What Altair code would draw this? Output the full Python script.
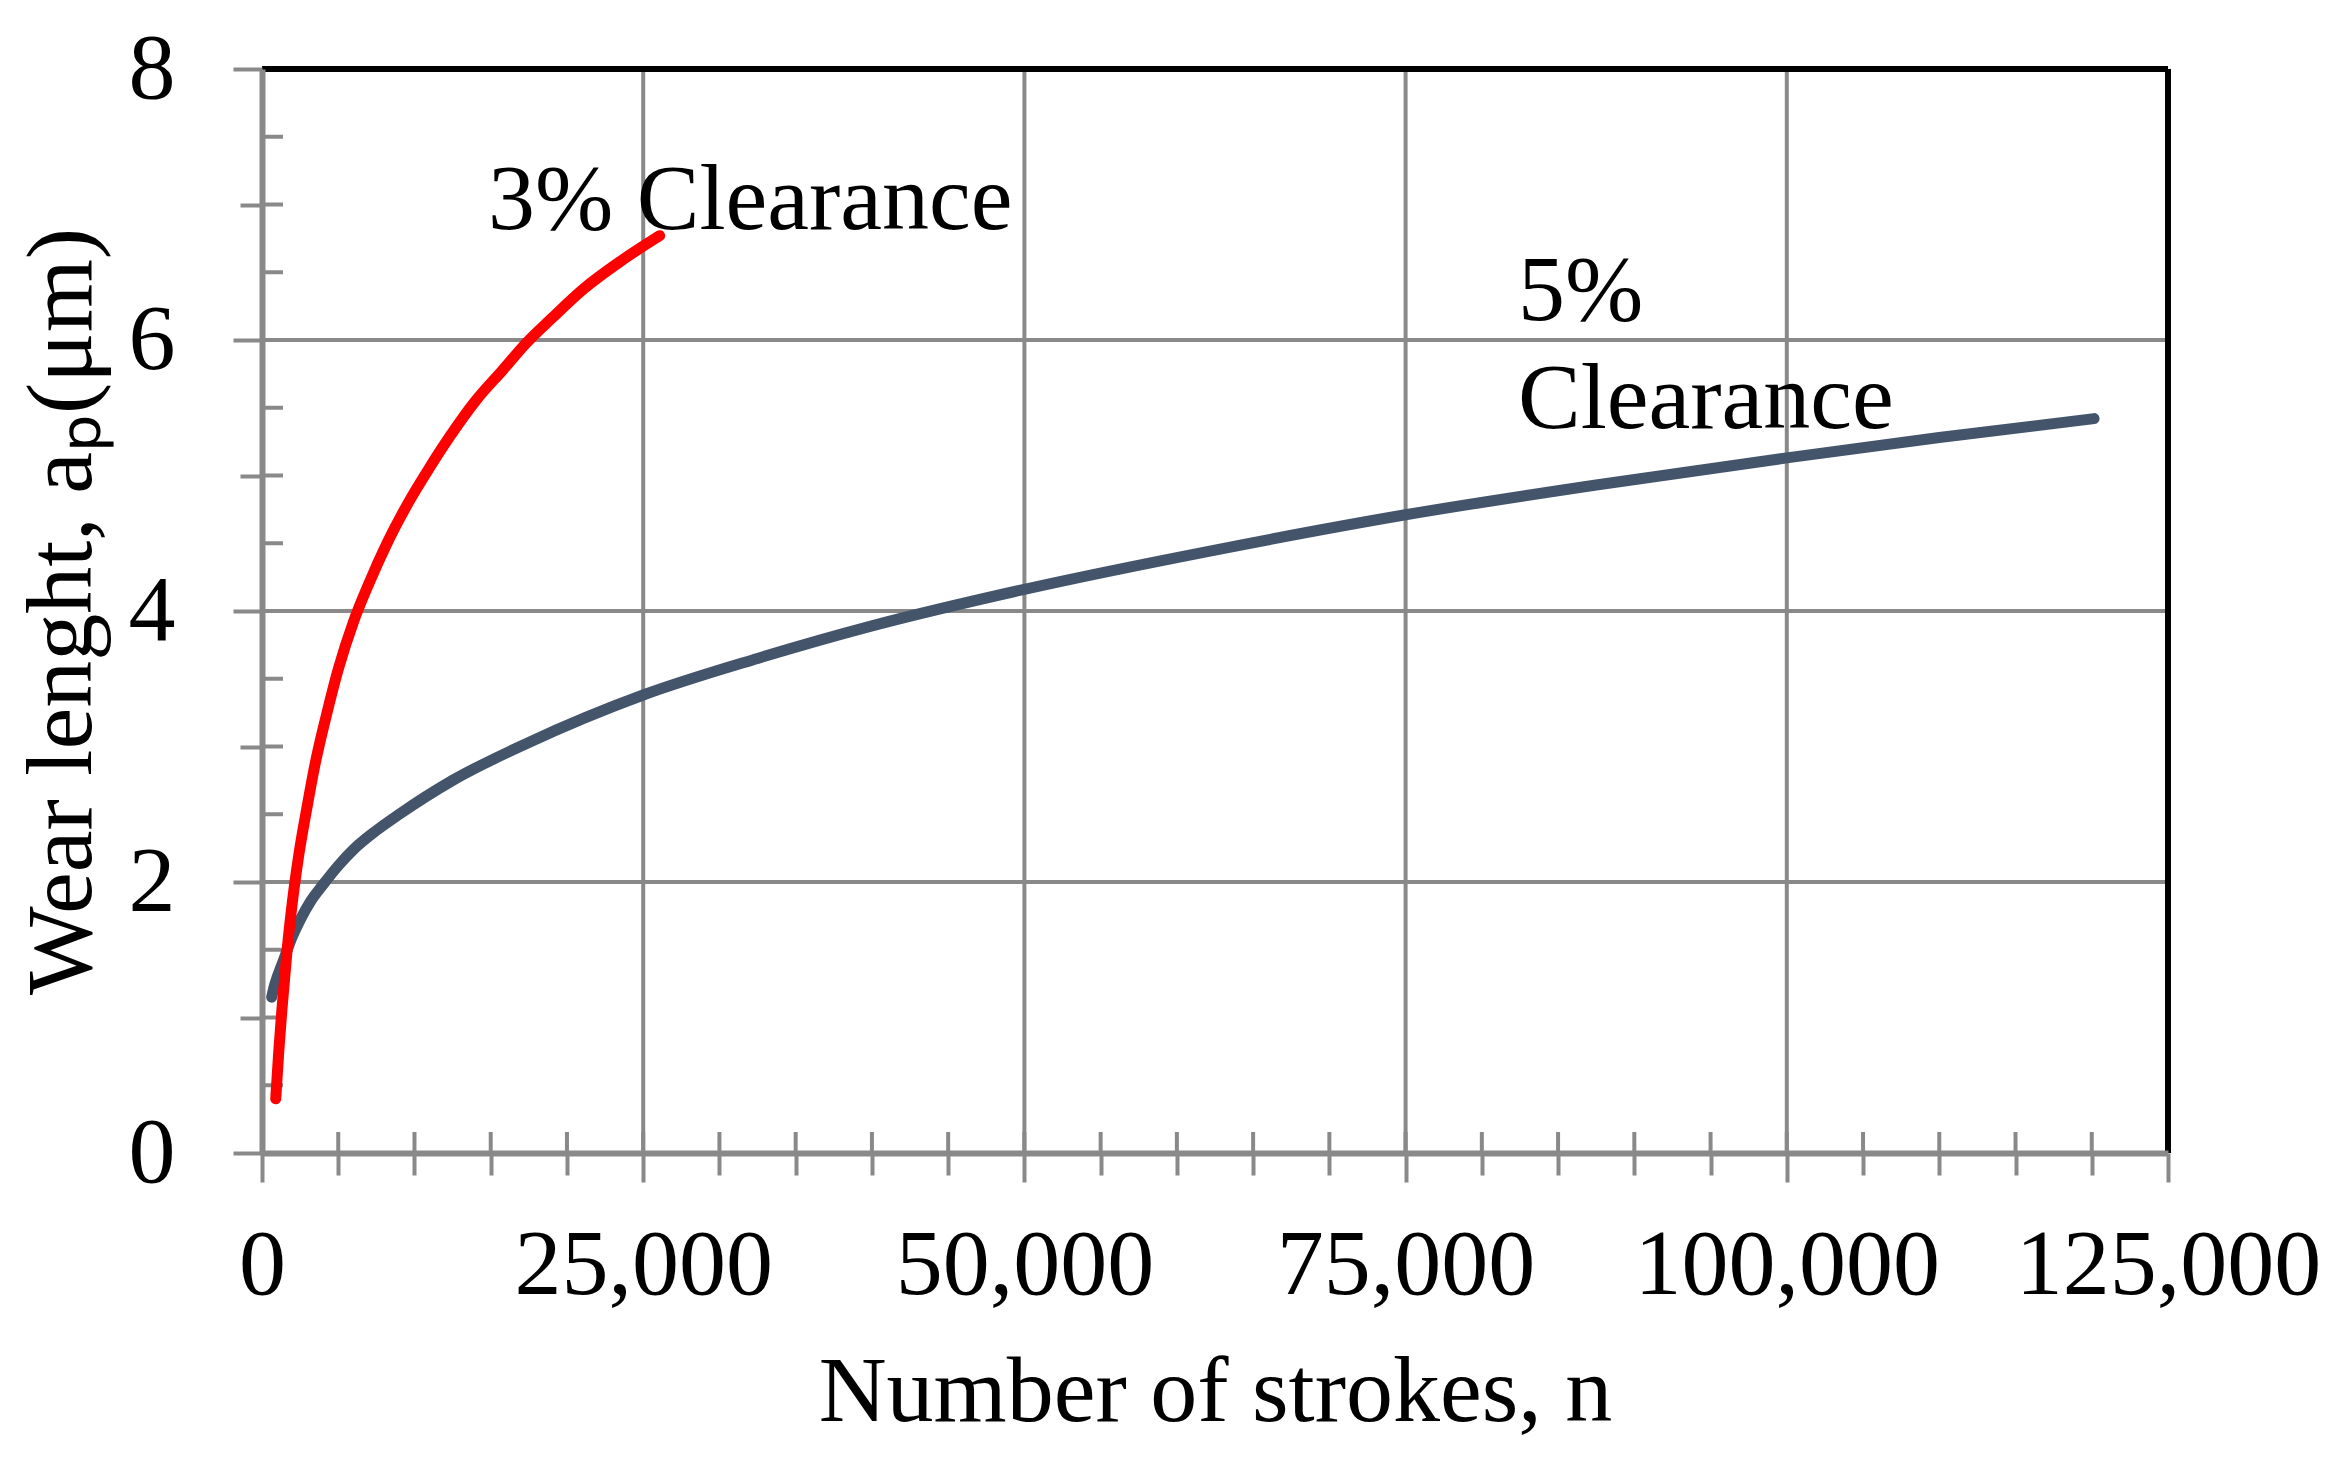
import altair as alt
import pandas as pd

# ---- data ----
red_n = [900, 1100, 1300, 1640, 2000, 2400, 2950, 3500, 4200, 5000, 6000, 7000, 8200,
         9500, 11000, 12330, 14000, 15800, 17350, 19000, 21120, 23500, 26080]
red_y = [0.40, 0.75, 1.05, 1.49, 1.86, 2.19, 2.55, 2.88, 3.22, 3.57, 3.92, 4.20, 4.50,
         4.78, 5.06, 5.29, 5.55, 5.78, 5.98, 6.16, 6.38, 6.58, 6.77]

gray_n = [636, 800, 1000, 1400, 2000, 2500, 3200, 4000, 5000, 6000, 7500, 9000, 12500,
          17500, 25000, 32500, 40000, 50000, 62500, 75000, 87500, 100000, 110000, 120150]
gray_y = [1.15, 1.23, 1.30, 1.42, 1.60, 1.72, 1.86, 1.98, 2.12, 2.24, 2.38, 2.50, 2.75,
          3.03, 3.38, 3.65, 3.89, 4.16, 4.45, 4.71, 4.93, 5.13, 5.28, 5.42]

label_text = ["3% Clearance", "5%", "Clearance"]
label_n = [14820, 82370, 82370]
label_y = [6.82, 6.15, 5.35]

x_tick_values = [0, 5000, 10000, 15000, 20000, 25000, 30000, 35000, 40000, 45000, 50000,
                 55000, 60000, 65000, 70000, 75000, 80000, 85000, 90000, 95000, 100000,
                 105000, 110000, 115000, 120000, 125000]
y_tick_values = [0, 0.5, 1, 1.5, 2, 2.5, 3, 3.5, 4, 4.5, 5, 5.5, 6, 6.5, 7, 7.5, 8]
x_grid_values = [25000, 50000, 75000, 100000]
y_grid_values = [2, 4, 6]
x_max = [125000]
y_max = [8]

W, H = 1906, 1084
FONT = "Liberation Serif"
GRAY = "#898989"

xaxis = alt.Axis(
    values=x_tick_values, format=",d",
    labelExpr="datum.value % 25000 === 0 ? datum.label : ''",
    labelOverlap=False, labelFlush=False, labelLimit=0,
    grid=False,
    domainColor=GRAY, domainWidth=6,
    tickColor=GRAY, tickWidth=4,
    tickSize={"condition": {"test": "datum.value % 25000 === 0", "value": 29}, "value": 22},
    labelFont=FONT, labelFontSize=94, labelColor="black", labelPadding=37,
    title="Number of strokes, n", titleFont=FONT, titleFontSize=94,
    titleFontWeight="normal", titleColor="black", titleBaseline="alphabetic",
    titleY=267, zindex=1,
)
yaxis = alt.Axis(
    values=y_tick_values, format="d",
    labelExpr="datum.value % 2 === 0 ? datum.label : ''",
    labelOverlap=False, labelFlush=False, labelLimit=0,
    grid=False,
    domainColor=GRAY, domainWidth=6,
    tickColor=GRAY, tickWidth=4,
    tickSize={"condition": {"test": "datum.value % 2 === 0", "value": 29}, "value": 22},
    labelFont=FONT, labelFontSize=94, labelColor="black", labelPadding=58,
    title="Wear lenght, a\u209a(\u03bcm)", titleFont=FONT, titleFontSize=94,
    titleFontWeight="normal", titleColor="black", titleBaseline="alphabetic",
    titleAngle=270, titleAlign="center", titleX=-172, titleY=542, zindex=1,
    titleLimit=0,
)

xscale = alt.Scale(domain=[0, 125000], nice=False, zero=True)
yscale = alt.Scale(domain=[0, 8], nice=False, zero=True)
x_enc = alt.X("n:Q", scale=xscale, axis=xaxis, title="Number of strokes, n")
y_enc = alt.Y("y:Q", scale=yscale, axis=yaxis, title="Wear lenght, a\u209a(\u03bcm)")

red_df = pd.DataFrame({"n": red_n, "y": red_y})
gray_df = pd.DataFrame({"n": gray_n, "y": gray_y})
lab_df = pd.DataFrame({"n": label_n, "y": label_y, "t": label_text})

xgrid = alt.Chart(pd.DataFrame({"n": x_grid_values})).mark_rule(
    color=GRAY, strokeWidth=4).encode(x=x_enc)
ygrid = alt.Chart(pd.DataFrame({"y": y_grid_values})).mark_rule(
    color=GRAY, strokeWidth=4).encode(y=y_enc)

x_inner = alt.Chart(pd.DataFrame({"n": x_tick_values})).mark_rule(
    color=GRAY, strokeWidth=4).encode(x=x_enc, y=alt.value(H - 21), y2=alt.value(H))
y_inner = alt.Chart(pd.DataFrame({"y": y_tick_values})).mark_rule(
    color=GRAY, strokeWidth=4).encode(y=y_enc, x=alt.value(0), x2=alt.value(21))

top_border = alt.Chart(pd.DataFrame({"y": y_max})).mark_rule(
    color="black", strokeWidth=6).encode(y=y_enc)
right_border = alt.Chart(pd.DataFrame({"n": x_max})).mark_rule(
    color="black", strokeWidth=6).encode(x=x_enc)

gray_line = alt.Chart(gray_df).mark_line(
    color="#44546A", strokeWidth=11, strokeCap="round", strokeJoin="round",
    interpolate="monotone").encode(x=x_enc, y=y_enc)
red_line = alt.Chart(red_df).mark_line(
    color="#FF0000", strokeWidth=11, strokeCap="round", strokeJoin="round",
    interpolate="monotone").encode(x=x_enc, y=y_enc)

labels = alt.Chart(lab_df).mark_text(
    align="left", baseline="alphabetic", font=FONT, fontSize=94, color="black"
).encode(x=x_enc, y=y_enc, text="t:N")

chart = alt.layer(
    xgrid, ygrid, x_inner, y_inner, top_border, right_border, gray_line, red_line, labels
).properties(
    width=W, height=H,
    autosize=alt.AutoSizeParams(type="none"),
    padding={"left": 254, "top": 61, "right": 160, "bottom": 292},
    background="white",
).configure_view(strokeWidth=0)

chart.save("out.html", embed_options={"renderer": "svg", "actions": False})
